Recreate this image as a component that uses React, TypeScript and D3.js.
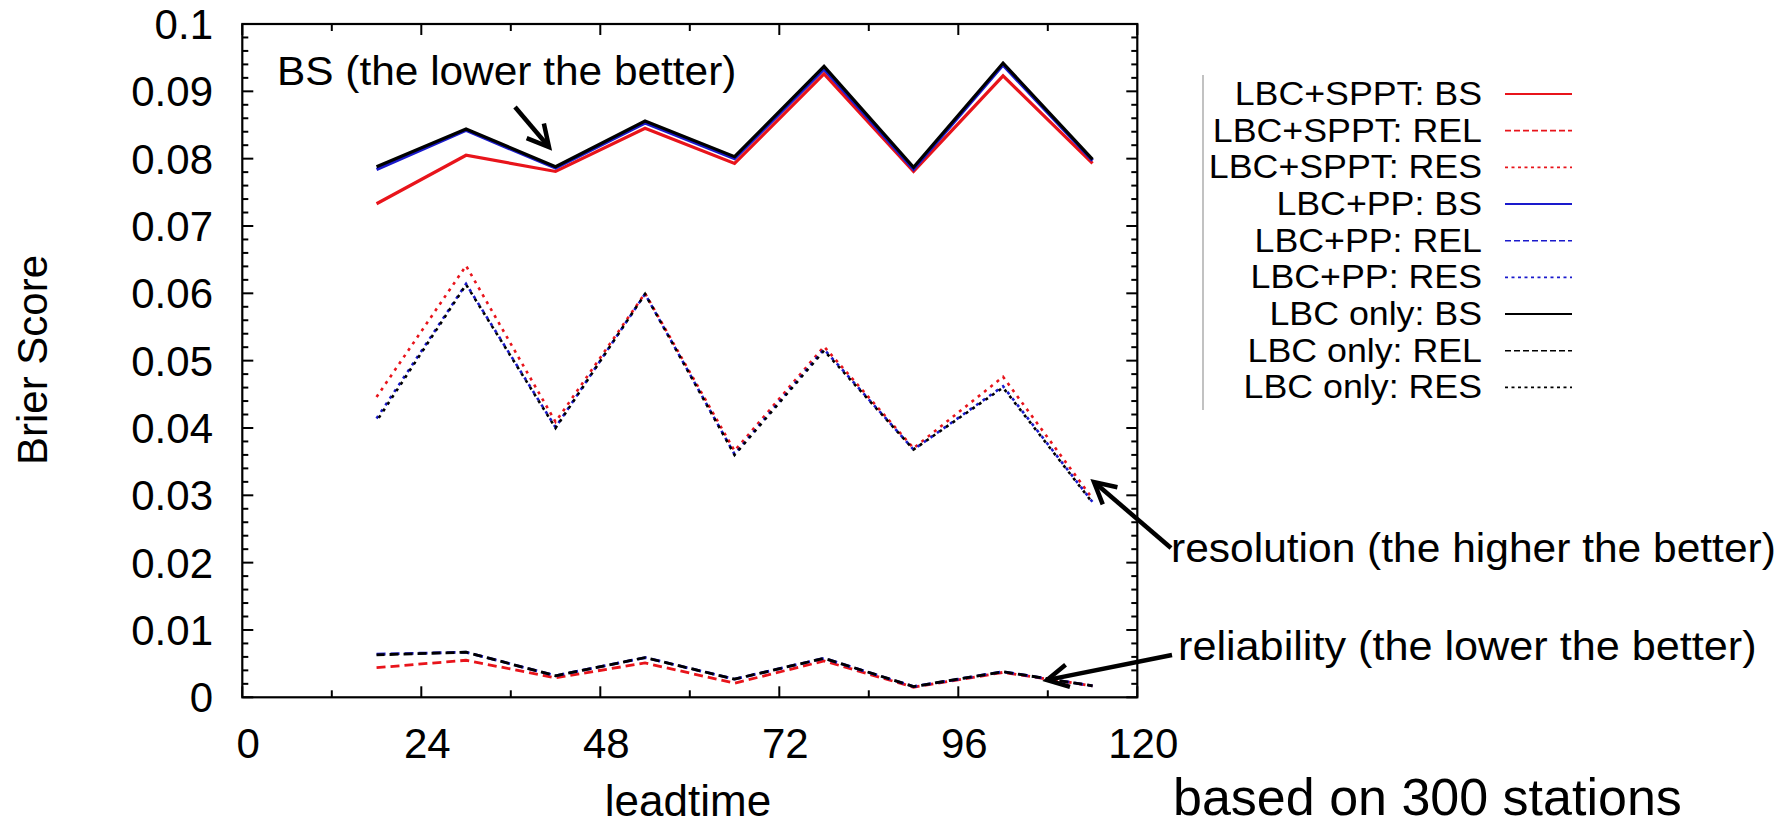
import React from "react";
import * as d3 from "d3";

const leadtimes = [18, 30, 42, 54, 66, 78, 90, 102, 114];

const bsSPPT = [0.0733, 0.0805, 0.0781, 0.0845, 0.0793, 0.0926, 0.0781, 0.0923, 0.0793];
const bsPP = [0.0784, 0.0842, 0.0786, 0.0853, 0.08, 0.0933, 0.0784, 0.0939, 0.0797];
const bsLBC = [0.0788, 0.0844, 0.0788, 0.0856, 0.0803, 0.0937, 0.0787, 0.0942, 0.0799];

const relSPPT = [0.0044, 0.0055, 0.0029, 0.0051, 0.0021, 0.0054, 0.0015, 0.0037, 0.0017];
const relPP = [0.0064, 0.0067, 0.0032, 0.0059, 0.0027, 0.0058, 0.0016, 0.0038, 0.0017];
const relLBC = [0.0063, 0.0067, 0.0032, 0.0059, 0.0027, 0.0058, 0.0016, 0.0038, 0.0017];

const resSPPT = [0.0446, 0.0641, 0.0409, 0.06, 0.0366, 0.0521, 0.037, 0.0476, 0.0295];
const resPP = [0.0414, 0.0614, 0.0401, 0.0599, 0.0361, 0.0517, 0.0368, 0.0462, 0.029];
const resLBC = [0.041, 0.0613, 0.04, 0.0599, 0.036, 0.0515, 0.0368, 0.046, 0.0289];

const xTickLabels = [0, 24, 48, 72, 96, 120];
const yTickLabels = [0, 0.01, 0.02, 0.03, 0.04, 0.05, 0.06, 0.07, 0.08, 0.09, 0.1];

const legendLabels = [
  "LBC+SPPT: BS",
  "LBC+SPPT: REL",
  "LBC+SPPT: RES",
  "LBC+PP: BS",
  "LBC+PP: REL",
  "LBC+PP: RES",
  "LBC only: BS",
  "LBC only: REL",
  "LBC only: RES",
];

const RED = "#e8141b";
const BLUE = "#1a1acc";
const BLACK = "#000000";

type Series = { values: number[]; color: string; kind: "BS" | "REL" | "RES"; offset?: number };

// draw order: red, blue, black for each group
const series: Series[] = [
  { values: resSPPT, color: RED, kind: "RES" },
  { values: resPP, color: BLUE, kind: "RES" },
  { values: resLBC, color: BLACK, kind: "RES", offset: 4 },
  { values: relSPPT, color: RED, kind: "REL" },
  { values: relPP, color: BLUE, kind: "REL" },
  { values: relLBC, color: BLACK, kind: "REL", offset: 1 },
  { values: bsSPPT, color: RED, kind: "BS" },
  { values: bsPP, color: BLUE, kind: "BS" },
  { values: bsLBC, color: BLACK, kind: "BS" },
];

const legendStyles = [
  { color: RED, kind: "BS" },
  { color: RED, kind: "REL" },
  { color: RED, kind: "RES" },
  { color: BLUE, kind: "BS" },
  { color: BLUE, kind: "REL" },
  { color: BLUE, kind: "RES" },
  { color: BLACK, kind: "BS" },
  { color: BLACK, kind: "REL" },
  { color: BLACK, kind: "RES" },
];

const FONT = "'Liberation Sans', Arial, Helvetica, sans-serif";

const W = 1784;
const H = 828;
const M = { left: 242.3, right: 1137.3, top: 24, bottom: 697.3 };

const x = d3.scaleLinear().domain([0, 120]).range([M.left, M.right]);
const y = d3.scaleLinear().domain([0, 0.1]).range([M.bottom, M.top]);

const dashFor = (kind: string) => (kind === "REL" ? "9,5" : kind === "RES" ? "3,5" : undefined);
const widthFor = (kind: string) => (kind === "BS" ? 3.2 : kind === "REL" ? 2.8 : 2.6);

function Arrow({ x1, y1, x2, y2 }: { x1: number; y1: number; x2: number; y2: number }) {
  const ang = Math.atan2(y2 - y1, x2 - x1);
  const L = 24;
  const a = (28 * Math.PI) / 180;
  const p1 = [x2 - L * Math.cos(ang - a), y2 - L * Math.sin(ang - a)];
  const p2 = [x2 - L * Math.cos(ang + a), y2 - L * Math.sin(ang + a)];
  return (
    <g stroke="#000" strokeWidth={4.5} fill="none" strokeLinecap="butt" strokeLinejoin="miter">
      <line x1={x1} y1={y1} x2={x2 - 2 * Math.cos(ang)} y2={y2 - 2 * Math.sin(ang)} />
      <polyline points={`${p1[0]},${p1[1]} ${x2},${y2} ${p2[0]},${p2[1]}`} />
    </g>
  );
}

export default function App() {
  const line = d3
    .line<number>()
    .x((_, i) => x(leadtimes[i]))
    .y((d) => y(d));

  const xMajor = d3.range(0, 121, 24);
  const xMinor = d3.range(12, 120, 24);
  const yMajor = d3.range(0, 11).map((i) => i / 100);
  const yMinor = d3.range(0, 51).filter((i) => i % 5 !== 0).map((i) => i / 500);

  const legendX = 1482;
  const legendY0 = 105;
  const legendDY = 36.67;

  return (
    <svg
      width={W}
      height={H}
      style={{ position: "absolute", left: 0, top: 0, background: "#fff" }}
      fontFamily={FONT}
    >
      <rect x={0} y={0} width={W} height={H} fill="#fff" />

      {/* series */}
      <g fill="none" strokeLinejoin="miter">
        {series.map((s, i) => (
          <path
            key={i}
            d={line(s.values) || ""}
            stroke={s.color}
            strokeWidth={widthFor(s.kind)}
            strokeDasharray={dashFor(s.kind)}
            strokeDashoffset={s.offset || 0}
          />
        ))}
      </g>

      {/* ticks */}
      <g stroke="#000" strokeWidth={2}>
        {xMajor.map((v) => (
          <g key={"xM" + v}>
            <line x1={x(v)} x2={x(v)} y1={M.bottom} y2={M.bottom - 11} />
            <line x1={x(v)} x2={x(v)} y1={M.top} y2={M.top + 11} />
          </g>
        ))}
        {xMinor.map((v) => (
          <g key={"xm" + v}>
            <line x1={x(v)} x2={x(v)} y1={M.bottom} y2={M.bottom - 7} />
            <line x1={x(v)} x2={x(v)} y1={M.top} y2={M.top + 7} />
          </g>
        ))}
        {yMajor.map((v) => (
          <g key={"yM" + v}>
            <line x1={M.left} x2={M.left + 11} y1={y(v)} y2={y(v)} />
            <line x1={M.right} x2={M.right - 11} y1={y(v)} y2={y(v)} />
          </g>
        ))}
        {yMinor.map((v) => (
          <g key={"ym" + v}>
            <line x1={M.left} x2={M.left + 6} y1={y(v)} y2={y(v)} />
            <line x1={M.right} x2={M.right - 6} y1={y(v)} y2={y(v)} />
          </g>
        ))}
      </g>

      {/* frame */}
      <rect
        x={M.left}
        y={M.top}
        width={M.right - M.left}
        height={M.bottom - M.top}
        fill="none"
        stroke="#000"
        strokeWidth={2.2}
      />

      {/* tick labels */}
      <g fontSize={42} fill="#000">
        {xTickLabels.map((v) => (
          <text key={"xl" + v} x={x(v) + 6} y={758} textAnchor="middle">
            {String(v)}
          </text>
        ))}
        {yTickLabels.map((v) => (
          <text key={"yl" + v} x={213} y={y(v) + 15} textAnchor="end">
            {v === 0 ? "0" : String(+v.toFixed(2))}
          </text>
        ))}
      </g>

      {/* axis titles */}
      <text fontSize={42} textAnchor="middle" transform={`translate(47,360) rotate(-90)`}>
        Brier Score
      </text>
      <text fontSize={44} textAnchor="middle" x={688} y={816}>
        leadtime
      </text>

      {/* legend */}
      <line x1={1203} x2={1203} y1={75} y2={410} stroke="#999" strokeWidth={1.2} />
      {legendLabels.map((lab, i) => {
        const st = legendStyles[i];
        const by = legendY0 + i * legendDY;
        return (
          <g key={"lg" + i}>
            <text
              fontSize={32.5}
              textAnchor="end"
              transform={`translate(${legendX},${by}) scale(1.1,1)`}
            >
              {lab}
            </text>
            <line
              x1={1505}
              x2={1572}
              y1={by - 11}
              y2={by - 11}
              stroke={st.color}
              strokeWidth={st.kind === "BS" ? 2.2 : 1.6}
              strokeDasharray={st.kind === "REL" ? "6,3" : st.kind === "RES" ? "3,3.5" : undefined}
            />
          </g>
        );
      })}

      {/* annotations */}
      <text fontSize={40} transform={`translate(277,85) scale(1.06,1)`}>
        BS (the lower the better)
      </text>
      <Arrow x1={515} y1={107} x2={549} y2={147} />

      <text fontSize={40} transform={`translate(1171,562) scale(1.063,1)`}>
        resolution (the higher the better)
      </text>
      <Arrow x1={1171} y1={548} x2={1094} y2={482} />

      <text fontSize={40} transform={`translate(1178,660) scale(1.08,1)`}>
        reliability (the lower the better)
      </text>
      <Arrow x1={1172} y1={655} x2={1047} y2={680} />

      <text fontSize={52} x={1173} y={815}>
        based on 300 stations
      </text>
    </svg>
  );
}
